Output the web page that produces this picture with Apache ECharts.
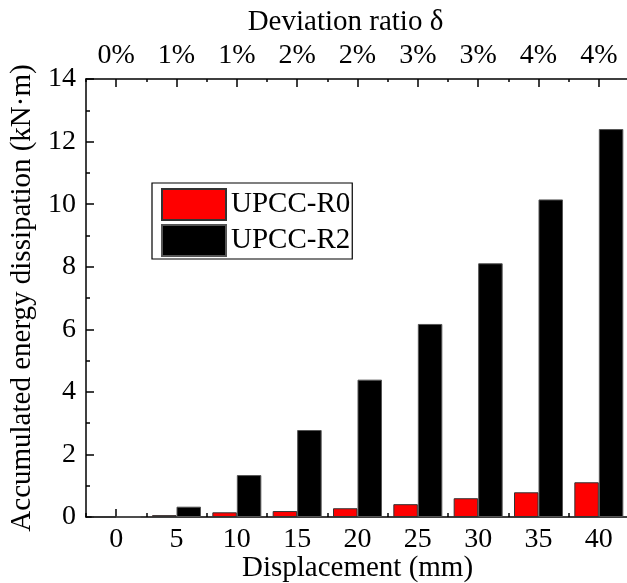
<!DOCTYPE html>
<html><head><meta charset="utf-8">
<script src="https://cdn.jsdelivr.net/npm/echarts@6/dist/echarts.min.js"></script>
<style>html,body{margin:0;padding:0;background:#fff}#c{width:627px;height:583px}</style>
</head><body><div id="c"></div>
<script>
const categories = ['0','5','10','15','20','25','30','35','40'];
const topLabels = ['0%','1%','1%','2%','2%','3%','3%','4%','4%'];
const seriesR0 = [0, 0.06, 0.15, 0.19, 0.28, 0.41, 0.60, 0.79, 1.11];
const seriesR2 = [0, 0.33, 1.34, 2.78, 4.39, 6.17, 8.11, 10.15, 12.40];
const yTicks = [0, 14, 2];

const FONT = '"Liberation Serif", "Times New Roman", serif';
const txt = {fontFamily: FONT, fontSize: 28, color: '#000'};
const nameTxt = {fontFamily: FONT, fontSize: 29, color: '#000'};
const line = {show: true, lineStyle: {color: '#000', width: 1.5}};
const chart = echarts.init(document.getElementById('c'));
chart.setOption({
  animation: false,
  backgroundColor: '#fff',
  grid: {left: 86, top: 79, width: 543, height: 438, containLabel: false, outerBoundsMode: 'none'},
  legend: {
    orient: 'vertical', left: 152, top: 183,
    data: ['UPCC-R0', 'UPCC-R2'],
    icon: 'rect',
    itemWidth: 64, itemHeight: 31, itemGap: 3,
    padding: [5, 2, 2, 9],
    borderColor: '#000', borderWidth: 1.2,
    textStyle: Object.assign({}, txt, {fontSize: 29, lineHeight: 31})
  },
  xAxis: [
    {type: 'category', position: 'bottom', data: categories, gridIndex: 0,
     axisLine: line, axisTick: {show: true, inside: true, length: 4, lineStyle: {color: '#000', width: 1.5}},
     axisLabel: Object.assign({margin: 9}, txt),
     name: 'Displacement (mm)', nameLocation: 'middle', nameGap: 37, nameMoveOverlap: false,
     nameTextStyle: nameTxt},
    {type: 'category', position: 'bottom', data: categories, gridIndex: 0,
     axisLine: {show: false},
     axisTick: {show: true, inside: true, alignWithLabel: true, length: 8,
                interval: function (i) { return i === 0; }, lineStyle: {color: '#000', width: 1.5}},
     axisLabel: {show: false}},
    {type: 'category', position: 'top', data: topLabels, gridIndex: 0,
     axisLine: line,
     axisTick: {show: true, inside: true, alignWithLabel: true, length: 8, lineStyle: {color: '#000', width: 1.5}},
     axisLabel: Object.assign({margin: 9, interval: 0}, txt),
     name: 'Deviation ratio δ', nameLocation: 'middle', nameGap: 40,
     nameTextStyle: Object.assign({padding: [0, 24, 0, 0]}, nameTxt)},
    {type: 'category', position: 'top', data: topLabels, gridIndex: 0,
     axisLine: {show: false},
     axisTick: {show: true, inside: true, length: 3, lineStyle: {color: '#000', width: 1.5}},
     axisLabel: {show: false}}
  ],
  yAxis: {
    type: 'value', min: yTicks[0], max: yTicks[1], interval: yTicks[2],
    axisLine: line,
    axisTick: {show: true, inside: true, length: 8, lineStyle: {color: '#000', width: 1.5}},
    minorTick: {show: true, splitNumber: 2, length: 4, lineStyle: {color: '#000', width: 1.5}},
    splitLine: {show: false},
    axisLabel: Object.assign({margin: 10}, txt),
    name: 'Accumulated energy dissipation (kN·m)', nameLocation: 'middle', nameGap: 47,
    nameTextStyle: nameTxt
  },
  series: [
    {name: 'UPCC-R0', type: 'bar', xAxisIndex: 0, data: seriesR0, barWidth: 24.5, barGap: '0%',
     itemStyle: {color: '#ff0000', borderColor: '#333', borderWidth: 1}},
    {name: 'UPCC-R2', type: 'bar', xAxisIndex: 0, data: seriesR2, barWidth: 24.5, barGap: '0%',
     itemStyle: {color: '#000000', borderColor: '#555', borderWidth: 1}}
  ]
});
</script></body></html>
